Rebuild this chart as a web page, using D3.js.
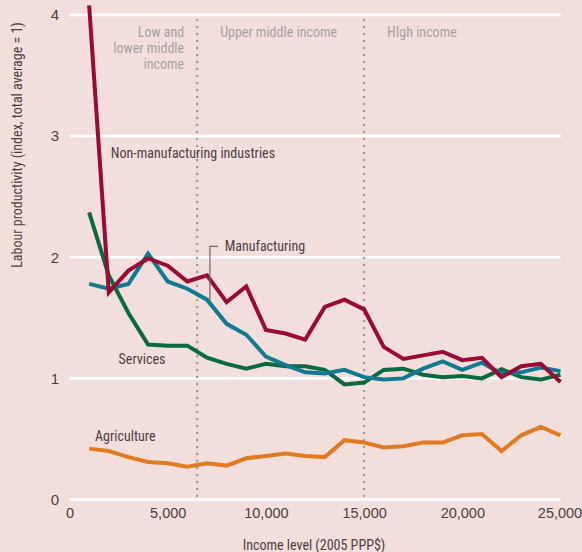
<!DOCTYPE html>
<html><head><meta charset="utf-8">
<script src="https://cdn.jsdelivr.net/npm/d3@7"></script>
<style>
html,body{margin:0;padding:0;background:#f2dfdc;}
svg{display:block;}
text{font-family:"Liberation Sans Narrow","Roboto Condensed","Liberation Sans",sans-serif;}
</style></head>
<body>
<svg id="chart" width="582" height="552"></svg>
<script>
const incomes = d3.range(1000, 25001, 1000);
const nonManufacturing = [4.08,1.71,1.89,1.99,1.93,1.80,1.85,1.63,1.76,1.40,1.37,1.32,1.59,1.65,1.57,1.26,1.16,1.19,1.22,1.15,1.17,1.01,1.10,1.12,0.97];
const manufacturing = [1.78,1.74,1.78,2.03,1.80,1.74,1.65,1.45,1.36,1.18,1.11,1.05,1.04,1.07,1.01,0.99,1.00,1.08,1.14,1.07,1.13,1.04,1.05,1.09,1.06];
const services = [2.37,1.85,1.54,1.28,1.27,1.27,1.17,1.12,1.08,1.12,1.10,1.10,1.07,0.95,0.965,1.07,1.08,1.03,1.01,1.02,1.00,1.075,1.01,0.99,1.03];
const agriculture = [0.42,0.40,0.35,0.31,0.30,0.27,0.30,0.28,0.34,0.36,0.38,0.36,0.35,0.49,0.47,0.43,0.44,0.47,0.47,0.53,0.54,0.40,0.53,0.60,0.53];
const xTicks = [0,5000,10000,15000,20000,25000];
const yTicks = [0,1,2,3,4];
const boundaries = [6500, 15000];
const regionLabels = [
  {lines:["Low and","lower middle","income"], x:6500, anchor:"end"},
  {lines:["Upper middle income"], x:6500, anchor:"start"},
  {lines:["HIgh income"], x:15000, anchor:"start"}
];
const seriesList = [
  {name:"Agriculture", values:agriculture, color:"#e07b22", label:"Agriculture", lx:1300, ly:0.52},
  {name:"Services", values:services, color:"#0a6a3e", label:"Services", lx:2500, ly:1.16},
  {name:"Manufacturing", values:manufacturing, color:"#0f7a92", label:"Manufacturing", lx:7900, ly:2.09},
  {name:"Non-manufacturing industries", values:nonManufacturing, color:"#990a35", label:"Non-manufacturing industries", lx:2100, ly:2.86}
];

const svg = d3.select("#chart");
const x = d3.scaleLinear().domain([0,25000]).range([69.5,560.5]);
const y = d3.scaleLinear().domain([0,4]).range([499.5,15]);
const textColor = "#4b4143";

// gridlines
svg.append("g").selectAll("line").data(yTicks).join("line")
  .attr("x1", x(0)).attr("x2", x(25000))
  .attr("y1", d=>y(d)).attr("y2", d=>y(d))
  .attr("stroke","#ffffff").attr("stroke-width",2.6);

// y axis labels
const yAxis = d3.axisLeft(y).tickValues(yTicks).tickSize(0).tickPadding(0).tickFormat(d3.format("d"));
const gy = svg.append("g").attr("transform","translate(59,0)").call(yAxis);
gy.select(".domain").remove();
gy.selectAll("text").attr("font-size",15).attr("fill",textColor)
  .style("font-family",'"Liberation Sans Narrow","Liberation Sans",sans-serif');

// x axis labels
const xAxis = d3.axisBottom(x).tickValues(xTicks).tickSize(0).tickPadding(0).tickFormat(d3.format(","));
const gx = svg.append("g").attr("transform","translate(0,508)").call(xAxis);
gx.select(".domain").remove();
gx.selectAll("text").attr("font-size",14.5).attr("fill",textColor)
  .style("font-family",'"Liberation Sans Narrow","Liberation Sans",sans-serif');
gx.selectAll(".tick").filter(d=>d===25000).select("text").attr("dx",-1);

// axis titles
svg.append("text").attr("x",314).attr("y",550).attr("text-anchor","middle")
  .attr("font-size",14).attr("fill",textColor).text("Income level (2005 PPP$)");
svg.append("text").attr("transform","translate(22,145) rotate(-90)").attr("text-anchor","middle")
  .attr("font-size",14).attr("fill",textColor).text("Labour productivity (index, total average = 1)");

// boundaries
svg.append("g").selectAll("line").data(boundaries).join("line")
  .attr("x1",d=>x(d)).attr("x2",d=>x(d)).attr("y1",20).attr("y2",y(0))
  .attr("stroke","#9a9a9e").attr("stroke-width",2.4)
  .attr("stroke-dasharray","0 7").attr("stroke-linecap","round");

// region labels
regionLabels.forEach(r=>{
  const t = svg.append("text").attr("font-size",14).attr("fill","#a4a2a4")
    .attr("text-anchor",r.anchor)
    .attr("x", r.anchor==="end" ? x(r.x)-13 : x(r.x)+23);
  r.lines.forEach((l,i)=>{
    t.append("tspan").attr("x", r.anchor==="end" ? x(r.x)-13 : x(r.x)+23)
      .attr("y", 37+i*16).text(l);
  });
});

// lines
const line = d3.line().x((d,i)=>x(incomes[i])).y(d=>y(d)).curve(d3.curveLinear);
seriesList.forEach(s=>{
  svg.append("path").datum(s.values).attr("d",line)
    .attr("fill","none").attr("stroke",s.color).attr("stroke-width",4)
    .attr("stroke-linejoin","miter").attr("stroke-linecap","butt");
});

// manufacturing leader
svg.append("path")
  .attr("d",`M${x(7150)+8},${y(2.09)} H${x(7150)} V${y(1.64)}`)
  .attr("fill","none").attr("stroke","#6e6668").attr("stroke-width",1.2);

// series labels
seriesList.forEach(s=>{
  svg.append("text").attr("x",x(s.lx)).attr("y",y(s.ly)).attr("dy","0.35em")
    .attr("font-size",14).attr("fill",textColor).text(s.label);
});
</script>
</body></html>
